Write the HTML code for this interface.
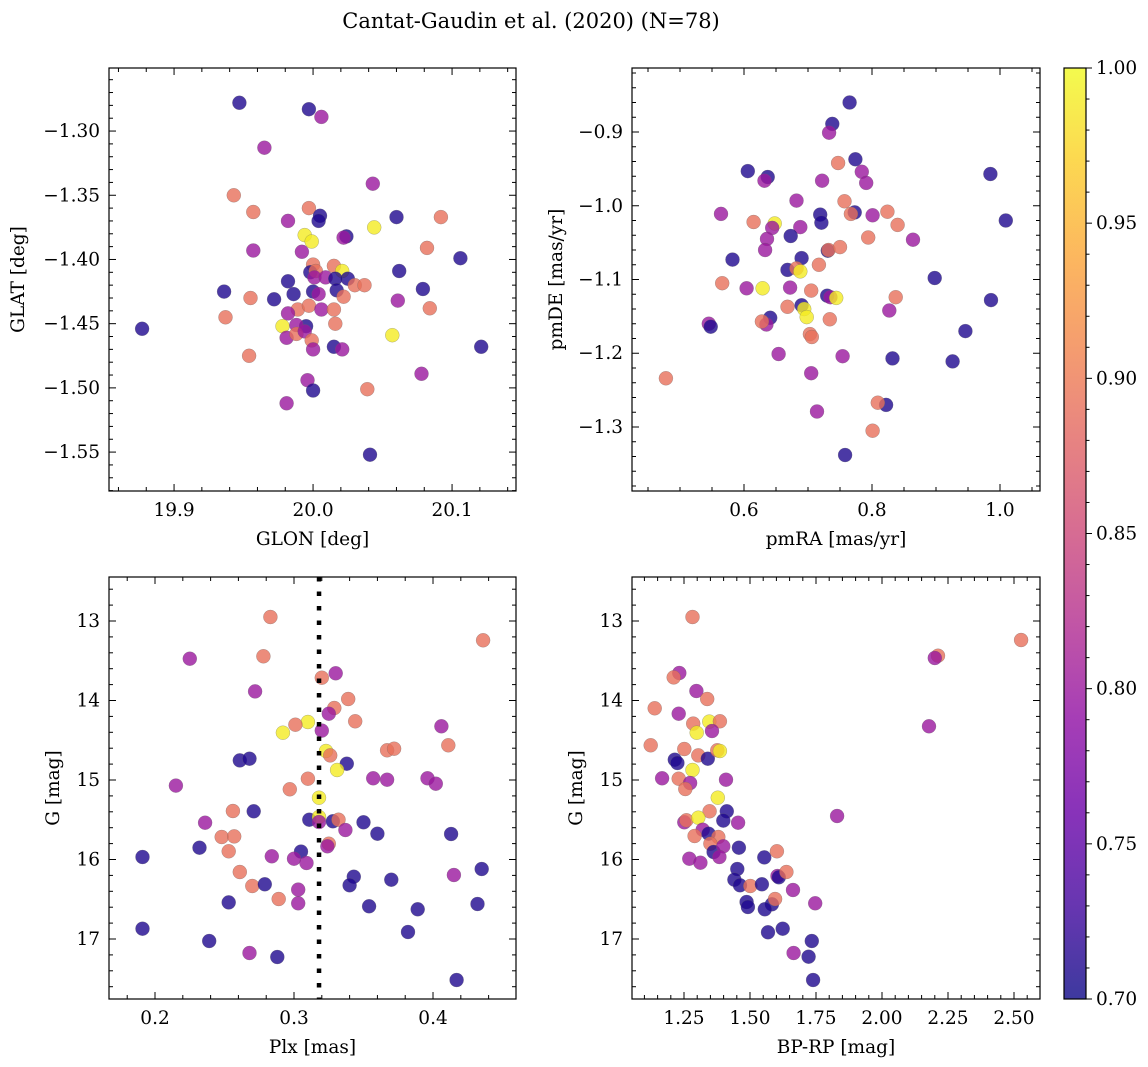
<!DOCTYPE html>
<html><head><meta charset="utf-8">
<style>
html,body{margin:0;padding:0;background:#fff;}
svg{display:block;font-family:"DejaVu Serif","Liberation Serif",serif;}
</style></head>
<body>
<svg id="fig" width="1148" height="1067" viewBox="0 0 1148 1067" xmlns="http://www.w3.org/2000/svg">
<text x="531" y="28" text-anchor="middle" font-size="21" fill="#000">Cantat-Gaudin et al. (2020) (N=78)</text>
</svg>
<script>
// Panel 1: [GLON, GLAT, prob]
const posData = [
[19.947,-1.278,0.71],[19.997,-1.283,0.71],[20.006,-1.289,0.80],[19.965,-1.313,0.80],[20.043,-1.341,0.80],
[19.943,-1.350,0.89],[19.957,-1.363,0.89],[19.997,-1.360,0.89],[20.005,-1.366,0.71],[20.004,-1.370,0.71],
[19.982,-1.370,0.80],[20.060,-1.367,0.71],[20.092,-1.367,0.89],[20.044,-1.375,0.99],[19.994,-1.381,0.99],
[19.999,-1.386,0.99],[20.024,-1.382,0.71],[20.022,-1.383,0.80],[19.957,-1.393,0.80],[19.992,-1.394,0.80],
[20.082,-1.391,0.89],[20.106,-1.399,0.71],[20.000,-1.404,0.89],[20.015,-1.405,0.89],[20.062,-1.409,0.71],
[19.998,-1.410,0.71],[20.002,-1.409,0.89],[20.021,-1.409,0.99],[20.001,-1.414,0.80],[20.009,-1.414,0.80],
[19.982,-1.417,0.71],[20.025,-1.415,0.71],[20.016,-1.415,0.71],[19.936,-1.425,0.71],[19.986,-1.427,0.71],
[20.000,-1.425,0.71],[20.004,-1.427,0.80],[20.017,-1.424,0.71],[20.030,-1.420,0.89],[20.037,-1.420,0.89],
[20.079,-1.423,0.71],[19.955,-1.430,0.89],[19.972,-1.431,0.71],[20.022,-1.429,0.89],[20.061,-1.432,0.80],
[20.084,-1.438,0.89],[19.937,-1.445,0.89],[19.989,-1.439,0.89],[19.997,-1.436,0.89],[20.006,-1.439,0.80],
[20.015,-1.439,0.89],[19.982,-1.442,0.80],[19.877,-1.454,0.71],[19.978,-1.452,0.99],[19.995,-1.452,0.71],
[19.988,-1.451,0.80],[20.016,-1.450,0.89],[20.057,-1.459,0.99],[19.981,-1.461,0.80],[19.988,-1.458,0.89],
[19.994,-1.456,0.80],[19.999,-1.463,0.89],[20.000,-1.470,0.80],[20.015,-1.468,0.71],[20.021,-1.470,0.80],
[20.121,-1.468,0.71],[19.954,-1.475,0.89],[20.078,-1.489,0.80],[19.996,-1.494,0.80],[20.000,-1.502,0.71],
[20.039,-1.501,0.89],[19.981,-1.512,0.80],[20.041,-1.552,0.71]
];
// Panel 2: [pmRA, pmDE, prob]
const pmData = [
[0.765,-0.860,0.71],[0.738,-0.889,0.71],[0.733,-0.901,0.80],[0.774,-0.937,0.71],[0.747,-0.942,0.89],
[0.606,-0.953,0.71],[0.637,-0.961,0.71],[0.632,-0.966,0.80],[0.722,-0.966,0.80],[0.784,-0.954,0.80],
[0.791,-0.969,0.80],[0.985,-0.957,0.71],[0.682,-0.993,0.80],[0.757,-0.994,0.89],[0.564,-1.011,0.80],
[0.719,-1.012,0.71],[0.773,-1.009,0.71],[0.767,-1.011,0.89],[0.801,-1.013,0.80],[0.824,-1.008,0.89],
[1.009,-1.020,0.71],[0.615,-1.022,0.89],[0.721,-1.023,0.71],[0.648,-1.024,0.99],[0.644,-1.030,0.80],
[0.688,-1.029,0.80],[0.840,-1.026,0.89],[0.673,-1.041,0.71],[0.636,-1.045,0.80],[0.794,-1.043,0.89],
[0.864,-1.046,0.80],[0.633,-1.060,0.80],[0.731,-1.061,0.71],[0.732,-1.060,0.89],[0.750,-1.056,0.89],
[0.582,-1.073,0.71],[0.690,-1.071,0.71],[0.717,-1.080,0.89],[0.668,-1.087,0.71],[0.682,-1.085,0.89],
[0.688,-1.089,0.99],[0.566,-1.105,0.89],[0.898,-1.098,0.71],[0.604,-1.112,0.80],[0.629,-1.112,0.99],
[0.672,-1.111,0.80],[0.705,-1.115,0.89],[0.730,-1.122,0.71],[0.735,-1.124,0.80],[0.744,-1.125,0.99],
[0.837,-1.124,0.89],[0.986,-1.128,0.71],[0.668,-1.137,0.89],[0.690,-1.135,0.71],[0.694,-1.140,0.99],
[0.698,-1.151,0.99],[0.734,-1.154,0.89],[0.827,-1.142,0.80],[0.641,-1.152,0.71],[0.635,-1.161,0.80],
[0.628,-1.157,0.89],[0.545,-1.160,0.80],[0.548,-1.164,0.71],[0.946,-1.170,0.71],[0.703,-1.174,0.89],
[0.706,-1.178,0.89],[0.654,-1.201,0.80],[0.754,-1.204,0.80],[0.832,-1.207,0.71],[0.926,-1.211,0.71],
[0.705,-1.227,0.80],[0.478,-1.234,0.89],[0.822,-1.270,0.71],[0.809,-1.267,0.89],[0.714,-1.279,0.80],
[0.801,-1.305,0.89],[0.758,-1.338,0.71]
];
// Panel 3: [Plx, G, prob]
const plxData = [
[0.283,12.950,0.89],[0.436,13.243,0.89],[0.225,13.474,0.80],[0.278,13.444,0.89],[0.330,13.658,0.80],
[0.320,13.713,0.89],[0.272,13.885,0.80],[0.339,13.981,0.89],[0.329,14.094,0.89],[0.325,14.166,0.80],
[0.310,14.270,0.99],[0.301,14.304,0.89],[0.344,14.262,0.89],[0.292,14.405,0.99],[0.320,14.379,0.80],
[0.406,14.325,0.80],[0.411,14.564,0.89],[0.367,14.627,0.89],[0.372,14.606,0.89],[0.323,14.635,0.99],
[0.326,14.690,0.89],[0.261,14.753,0.71],[0.268,14.732,0.71],[0.338,14.795,0.71],[0.331,14.874,0.99],
[0.215,15.071,0.80],[0.310,14.983,0.89],[0.297,15.117,0.89],[0.357,14.979,0.80],[0.367,14.996,0.80],
[0.396,14.979,0.80],[0.402,15.046,0.80],[0.318,15.222,0.99],[0.256,15.390,0.89],[0.271,15.394,0.71],
[0.311,15.499,0.71],[0.318,15.465,0.99],[0.318,15.528,0.80],[0.328,15.520,0.71],[0.332,15.499,0.89],
[0.350,15.532,0.71],[0.236,15.537,0.80],[0.337,15.629,0.80],[0.360,15.675,0.71],[0.413,15.679,0.71],
[0.248,15.717,0.89],[0.257,15.709,0.89],[0.232,15.851,0.71],[0.253,15.897,0.89],[0.325,15.801,0.89],
[0.324,15.834,0.80],[0.305,15.901,0.71],[0.191,15.969,0.71],[0.284,15.960,0.80],[0.300,15.990,0.80],
[0.309,16.044,0.80],[0.435,16.120,0.71],[0.415,16.195,0.80],[0.261,16.157,0.89],[0.343,16.216,0.71],
[0.340,16.325,0.71],[0.370,16.254,0.71],[0.270,16.333,0.89],[0.279,16.312,0.71],[0.303,16.379,0.80],
[0.253,16.539,0.71],[0.289,16.497,0.89],[0.303,16.551,0.80],[0.354,16.589,0.71],[0.389,16.627,0.71],
[0.432,16.560,0.71],[0.191,16.870,0.71],[0.382,16.912,0.71],[0.239,17.025,0.71],[0.268,17.176,0.80],
[0.288,17.226,0.71],[0.417,17.516,0.71]
];
// Panel 4: [BP-RP, G, prob]
const cmdData = [
[1.282,12.950,0.89],[2.527,13.239,0.89],[2.212,13.436,0.89],[2.200,13.465,0.80],[1.232,13.654,0.80],
[1.211,13.709,0.89],[1.297,13.880,0.80],[1.338,13.981,0.89],[1.139,14.098,0.89],[1.230,14.166,0.80],
[1.285,14.291,0.89],[1.346,14.266,0.99],[1.386,14.262,0.89],[1.356,14.384,0.80],[1.298,14.405,0.99],
[2.178,14.325,0.80],[1.124,14.564,0.89],[1.251,14.610,0.89],[1.304,14.690,0.89],[1.340,14.732,0.71],
[1.376,14.627,0.89],[1.386,14.635,0.99],[1.215,14.744,0.71],[1.225,14.786,0.71],[1.282,14.874,0.99],
[1.167,14.979,0.80],[1.230,14.983,0.89],[1.273,15.038,0.80],[1.255,15.113,0.89],[1.409,14.996,0.80],
[1.378,15.222,0.99],[1.412,15.394,0.71],[1.347,15.394,0.89],[1.399,15.511,0.71],[1.455,15.537,0.80],
[1.251,15.532,0.80],[1.259,15.507,0.89],[1.304,15.474,0.99],[1.830,15.453,0.80],[1.321,15.625,0.80],
[1.343,15.675,0.71],[1.290,15.704,0.89],[1.380,15.717,0.89],[1.350,15.801,0.89],[1.362,15.906,0.71],
[1.399,15.834,0.80],[1.384,15.969,0.80],[1.458,15.851,0.71],[1.270,15.990,0.80],[1.312,16.040,0.80],
[1.554,15.973,0.71],[1.602,15.897,0.89],[1.452,16.120,0.71],[1.604,16.208,0.80],[1.609,16.224,0.71],
[1.638,16.157,0.89],[1.441,16.254,0.71],[1.462,16.325,0.71],[1.501,16.333,0.89],[1.545,16.312,0.71],
[1.663,16.384,0.80],[1.487,16.535,0.71],[1.492,16.597,0.71],[1.583,16.564,0.71],[1.595,16.497,0.89],
[1.556,16.627,0.71],[1.747,16.551,0.80],[1.568,16.916,0.71],[1.624,16.870,0.71],[1.734,17.025,0.71],
[1.665,17.176,0.80],[1.722,17.222,0.71],[1.739,17.516,0.71]
];
const plxRef = [0.318];
const cbTicks = [0.70,0.75,0.80,0.85,0.90,0.95,1.00];

const NS='http://www.w3.org/2000/svg';
const svg=document.getElementById('fig');
const FS=18.5;
function mk(tag,attrs,parent){const e=document.createElementNS(NS,tag);for(const k in attrs)e.setAttribute(k,attrs[k]);(parent||svg).appendChild(e);return e;}
const stops=['#0d0887','#41049d','#6a00a8','#8f0da4','#b12a90','#cc4778','#e16462','#f2844b','#fca636','#fcce25','#f0f921'];
function hex(h){return [parseInt(h.slice(1,3),16),parseInt(h.slice(3,5),16),parseInt(h.slice(5,7),16)];}
function plasma(t){t=Math.max(0,Math.min(1,t));const f=t*10,i=Math.min(9,Math.floor(f)),u=f-i;const a=hex(stops[i]),b=hex(stops[i+1]);return 'rgb('+a.map((v,k)=>Math.round(v+(b[k]-v)*u)).join(',')+')';}
function cval(p){return plasma((p-0.7)/0.3);}

function panel(o){
  const g=mk('g',{});
  
  
  const X=v=>o.x0+(v-o.xd[0])/(o.xd[1]-o.xd[0])*(o.x1-o.x0);
  const Y=v=>o.y0+(v-o.yd[0])/(o.yd[1]-o.yd[0])*(o.y1-o.y0);
  const pg=mk('g',{},g);
  
  
  o.data.forEach(d=>{
    const c=mk('circle',{cx:X(d[0]).toFixed(1),cy:Y(d[1]).toFixed(1),r:7,fill:cval(d[2]),'fill-opacity':0.8,stroke:'#666','stroke-opacity':0.5,'stroke-width':0.5},pg);
    
    
  });
  if(o.vline){o.vline.forEach(v=>{
    const l=mk('line',{x1:X(v),x2:X(v),y1:o.y0,y2:o.y1,stroke:'#000','stroke-width':4.5,'stroke-dasharray':'4.5 10'},g);
    
    
  });}
  const fr=mk('rect',{x:o.x0,y:o.y0,width:o.x1-o.x0,height:o.y1-o.y0,fill:'none',stroke:'#000','stroke-width':1.2},g);
  
  
  const xlo=Math.min(...o.xd),xhi=Math.max(...o.xd),ylo=Math.min(...o.yd),yhi=Math.max(...o.yd);
  for(let k=Math.ceil(xlo/o.xmin-1e-6);k*o.xmin<=xhi+1e-9;k++){const v=k*o.xmin,x=X(v);const maj=Math.abs(v/o.xmaj-Math.round(v/o.xmaj))<1e-6;const L=maj?7:4;
    mk('line',{x1:x,x2:x,y1:o.y1,y2:o.y1-L,stroke:'#000','stroke-width':1},g);mk('line',{x1:x,x2:x,y1:o.y0,y2:o.y0+L,stroke:'#000','stroke-width':1},g);
    if(maj){const t=mk('text',{x:x,y:o.y1+25,'text-anchor':'middle','font-size':FS},g);t.textContent=v.toFixed(o.xdec);}}
  for(let k=Math.ceil(ylo/o.ymin-1e-6);k*o.ymin<=yhi+1e-9;k++){const v=k*o.ymin,y=Y(v);const maj=Math.abs(v/o.ymaj-Math.round(v/o.ymaj))<1e-6;const L=maj?7:4;
    mk('line',{x1:o.x0,x2:o.x0+L,y1:y,y2:y,stroke:'#000','stroke-width':1},g);mk('line',{x1:o.x1,x2:o.x1-L,y1:y,y2:y,stroke:'#000','stroke-width':1},g);
    if(maj){const t=mk('text',{x:o.x0-9,y:y+6,'text-anchor':'end','font-size':FS},g);let s=v.toFixed(o.ydec);if(v<0)s='\u2212'+s.slice(1);t.textContent=s;}}
  const xl=mk('text',{x:(o.x0+o.x1)/2,y:o.y1+54,'text-anchor':'middle','font-size':FS},g);xl.textContent=o.xlabel;
  
  const cy=(o.y0+o.y1)/2;const yl=mk('text',{x:o.ylx,y:cy,'text-anchor':'middle','font-size':FS,transform:'rotate(-90 '+o.ylx+' '+cy+')'},g);yl.textContent=o.ylabel;
  
}

panel({name:'position-panel',data:posData,x0:109,x1:516,y0:68,y1:491,xd:[19.8532,20.1460],yd:[-1.2509,-1.5803],xmaj:0.1,xmin:0.02,ymaj:0.05,ymin:0.01,xdec:1,ydec:2,xlabel:'GLON [deg]',ylabel:'GLAT [deg]',ylx:24});
panel({name:'proper-motion-panel',data:pmData,x0:632,x1:1040,y0:68,y1:491,xd:[0.425,1.0625],yd:[-0.8132,-1.3868],xmaj:0.2,xmin:0.05,ymaj:0.1,ymin:0.02,xdec:1,ydec:1,xlabel:'pmRA [mas/yr]',ylabel:'pmDE [mas/yr]',ylx:562});
panel({name:'parallax-panel',data:plxData,vline:plxRef,x0:109,x1:516,y0:577,y1:999,xd:[0.1669,0.4597],yd:[12.4465,17.7547],xmaj:0.1,xmin:0.02,ymaj:1,ymin:0.2,xdec:1,ydec:0,xlabel:'Plx [mas]',ylabel:'G [mag]',ylx:59});
panel({name:'cmd-panel',data:cmdData,x0:632,x1:1040,y0:577,y1:999,xd:[1.053,2.5985],yd:[12.4465,17.7547],xmaj:0.25,xmin:0.05,ymaj:1,ymin:0.2,xdec:2,ydec:0,xlabel:'BP-RP [mag]',ylabel:'G [mag]',ylx:582});

(function(){
  const x0=1064,x1=1086,y0=68,y1=999;
  const g=mk('g',{});
  
  
  const defs=mk('defs',{},g);
  const lg=mk('linearGradient',{id:'cbg',x1:0,y1:1,x2:0,y2:0},defs);
  for(let i=0;i<=20;i++){mk('stop',{offset:(i/20),'stop-color':plasma(i/20),'stop-opacity':0.8},lg);}
  mk('rect',{x:x0,y:y0,width:x1-x0,height:y1-y0,fill:'url(#cbg)'},g);
  mk('rect',{x:x0,y:y0,width:x1-x0,height:y1-y0,fill:'none',stroke:'#000','stroke-width':1.2},g);
  const Y=v=>y1-(v-0.7)/0.3*(y1-y0);
  for(let k=70;k<=100;k++){const v=k/100,y=Y(v);const maj=k%5===0;mk('line',{x1:x1,x2:x1+(maj?6:3.5),y1:y,y2:y,stroke:'#000','stroke-width':1},g);}
  cbTicks.forEach(v=>{const t=mk('text',{x:x1+10,y:Y(v)+6,'font-size':FS},g);t.textContent=v.toFixed(2);
    });
})();
</script>
</body></html>
